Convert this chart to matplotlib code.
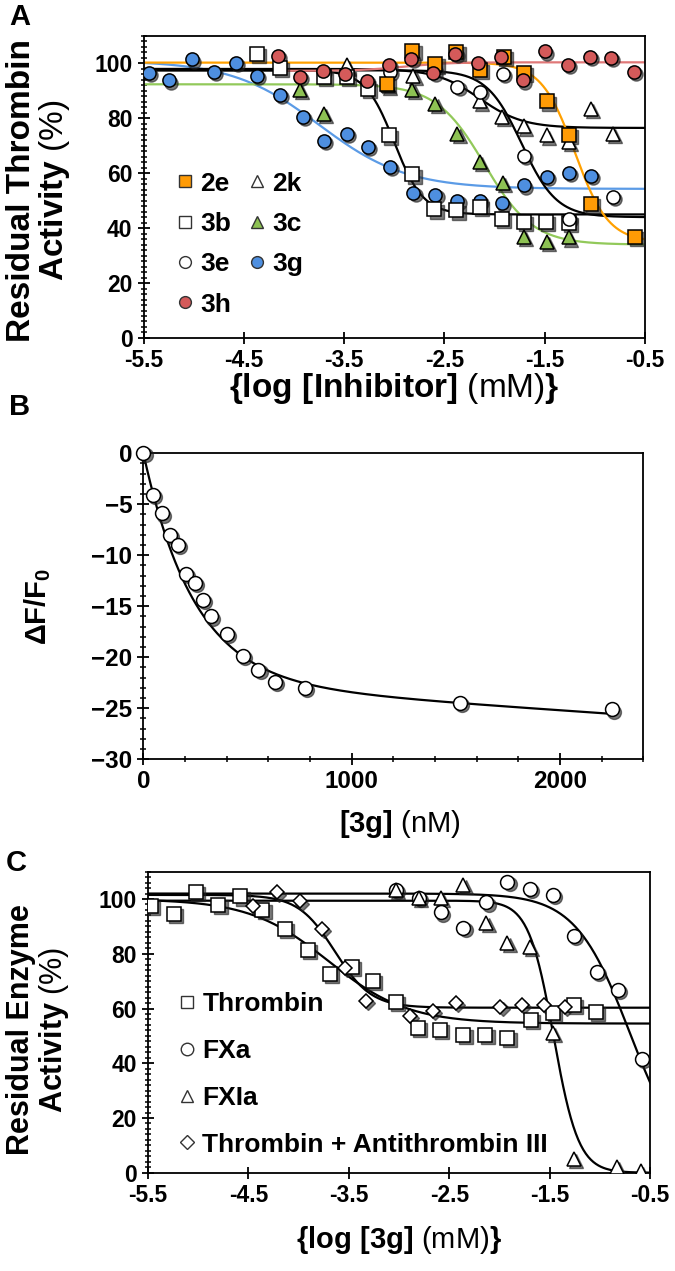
import numpy as np
import matplotlib
matplotlib.use('Agg')
import matplotlib.pyplot as plt
from matplotlib.transforms import offset_copy
from matplotlib.lines import Line2D
from matplotlib.ticker import MultipleLocator

plt.rcParams['font.family'] = ['Liberation Sans', 'DejaVu Sans']
plt.rcParams['font.weight'] = 'bold'
plt.rcParams['mathtext.fontset'] = 'custom'
plt.rcParams['mathtext.rm'] = 'Liberation Sans'
plt.rcParams['mathtext.bf'] = 'Liberation Sans:bold'
plt.rcParams['mathtext.it'] = 'Liberation Sans:italic'
plt.rcParams['axes.linewidth'] = 1.3

# ---- panel A : residual thrombin activity vs log[inhibitor] ----
x_2e = [-3.07, -2.82, -2.59, -2.38, -2.15, -1.91, -1.71, -1.48, -1.26, -1.04, -0.60]
y_2e = [92.6, 104.7, 99.9, 104.1, 97.7, 102.3, 96.5, 86.2, 74.1, 48.7, 36.8]
x_2k = [-3.47, -2.81, -2.59, -2.15, -1.93, -1.71, -1.48, -1.26, -1.04, -0.82]
y_2k = [99.3, 95.5, 99.5, 86.2, 80.5, 77.1, 73.8, 71.5, 83.5, 74.4]
x_3b = [-4.37, -4.14, -3.70, -3.47, -3.26, -3.05, -2.82, -2.60, -2.38, -2.15, -1.93, -1.71, -1.49, -1.26]
y_3b = [103.5, 98.3, 95.0, 95.0, 90.8, 73.8, 59.6, 46.8, 46.5, 47.8, 43.5, 42.3, 42.3, 42.0]
x_3c = [-3.94, -3.70, -3.47, -3.06, -2.82, -2.59, -2.37, -2.15, -1.92, -1.71, -1.48, -1.26]
y_3c = [90.4, 81.7, 98.7, 92.0, 90.5, 85.3, 74.4, 64.1, 56.5, 36.8, 35.0, 36.6]
x_3e = [-3.04, -2.37, -2.15, -1.92, -1.71, -1.26, -0.82]
y_3e = [96.8, 91.5, 89.6, 96.3, 66.2, 43.5, 51.5]
x_3g = [-5.45, -5.25, -5.02, -4.80, -4.58, -4.37, -4.14, -3.91, -3.70, -3.47, -3.26,
        -3.04, -2.81, -2.59, -2.37, -2.15, -1.93, -1.71, -1.48, -1.26, -1.04]
y_3g = [96.5, 93.8, 101.5, 97.0, 100.2, 95.4, 88.4, 80.5, 71.7, 74.2, 69.6,
        62.3, 52.9, 52.0, 49.8, 49.8, 49.0, 55.6, 58.7, 60.1, 58.9]
x_3h = [-4.16, -3.94, -3.71, -3.49, -3.27, -3.05, -2.83, -2.61, -2.39, -2.17, -1.94,
        -1.72, -1.50, -1.27, -1.05, -0.84, -0.61]
y_3h = [102.7, 95.0, 97.2, 96.0, 93.5, 99.5, 101.7, 96.6, 103.5, 100.2, 102.3,
        93.8, 104.4, 99.5, 102.3, 102.0, 96.8]

# fitted dose-response parameters (top, bottom, logIC50, hill)
fit_A = {
    '2e': (100.3, 35.0, -1.20, 2.6),
    '2k': (98.0, 76.5, -2.15, 2.0),
    '3b': (97.5, 45.0, -3.00, 3.0),
    '3c': (92.4, 34.0, -2.10, 1.8),
    '3e': (97.5, 44.0, -1.73, 2.5),
    '3g': (101.0, 54.3, -3.75, 1.0),
    '3h': (97.3, 100.4, -2.90, 2.0),
}

# ---- panel B : fluorescence titration ----
conc_3g = [0, 47.5, 88, 128, 167, 204, 248, 285, 325, 400, 477, 552, 632, 776, 1520, 2248]
dF_F0 = [0.0, -4.1, -5.9, -8.0, -9.0, -11.8, -12.7, -14.4, -16.0, -17.7, -19.9,
         -21.2, -22.4, -23.0, -24.5, -25.1]
fit_B = (22.4, 244.0, 0.0014)  # amplitude, decay const (nM), linear term

# ---- panel C : selectivity ----
x_thr = [-5.47, -5.24, -5.02, -4.80, -4.58, -4.36, -4.14, -3.91, -3.69, -3.47, -3.26,
         -3.03, -2.81, -2.59, -2.36, -2.14, -1.92, -1.69, -1.47, -1.26, -1.04]
y_thr = [97.5, 94.6, 102.6, 97.9, 101.0, 96.1, 89.1, 81.5, 72.7, 75.1, 70.1,
         62.5, 52.8, 52.2, 50.4, 50.4, 49.2, 55.9, 58.5, 61.4, 58.9]
x_fxa = [-3.03, -2.80, -2.58, -2.36, -2.13, -1.92, -1.70, -1.47, -1.26, -1.03, -0.82, -0.58]
y_fxa = [103.4, 100.4, 95.1, 89.4, 98.8, 106.4, 103.8, 101.6, 86.6, 73.5, 66.8, 41.5]
x_fxia = [-3.03, -2.80, -2.58, -2.36, -2.13, -1.92, -1.70, -1.47, -1.26, -0.83, -0.59]
y_fxia = [103.4, 100.4, 100.4, 105.2, 91.2, 83.9, 82.4, 51.0, 5.0, 2.0, 0.5]
x_at3 = [-4.45, -4.22, -3.99, -3.77, -3.54, -3.33, -2.89, -2.66, -2.43, -1.99, -1.78, -1.56, -1.35]
y_at3 = [97.3, 102.4, 99.1, 89.0, 74.8, 62.8, 57.3, 59.2, 62.0, 60.5, 61.4, 61.4, 60.7]

fit_C = {
    'Thrombin': (100.0, 54.5, -3.70, 1.1),
    'FXa': (102.0, 0.0, -0.70, 1.6),
    'FXIa': (99.4, 0.0, -1.46, 3.5),
    'Thrombin + Antithrombin III': (101.5, 60.3, -3.64, 2.4),
}

colors = {'2e': '#FF9B05', '2k': 'white', '3b': 'white', '3c': '#8DC153',
          '3e': 'white', '3g': '#4E8FE0', '3h': '#D45A5A'}
line_colors = {'2e': '#FFA000', '2k': 'black', '3b': 'black', '3c': '#92C95A',
               '3e': 'black', '3g': '#5B9BE6', '3h': '#E07878'}
markers = {'2e': 's', '2k': '^', '3b': 's', '3c': '^', '3e': 'o', '3g': 'o', '3h': 'o'}


def dose_response(x, top, bottom, logic50, hill):
    return bottom + (top - bottom) / (1 + 10 ** ((x - logic50) * hill))


fig = plt.figure(figsize=(6.75, 12.71), dpi=100)


def points(ax, x, y, marker, face, size, clip=True):
    sh = offset_copy(ax.transData, fig=fig, x=1.6, y=-1.6, units='points')
    ax.plot(x, y, ls='none', marker=marker, ms=size, mfc='#202020', mec='#202020',
            alpha=0.6, transform=sh, zorder=3, clip_on=clip)
    ax.plot(x, y, ls='none', marker=marker, ms=size, mfc=face, mec='black',
            mew=1.1, zorder=4, clip_on=clip)


def style(ax, size):
    ax.tick_params(which='major', direction='inout', length=9, width=1.3, labelsize=size)
    ax.tick_params(which='minor', direction='inout', length=5, width=1.1)


# ---------------- A ----------------
axA = fig.add_axes([0.2126, 0.7341, 0.743, 0.2376])
xs = np.linspace(-5.5, -0.5, 400)
data_A = {'2e': (x_2e, y_2e), '2k': (x_2k, y_2k), '3b': (x_3b, y_3b), '3c': (x_3c, y_3c),
          '3e': (x_3e, y_3e), '3g': (x_3g, y_3g), '3h': (x_3h, y_3h)}
for key in ['3g', '3c', '2k', '3b', '3e', '2e', '3h']:
    xx = xs if key != '3h' else np.linspace(-4.16, -0.5, 300)
    axA.plot(xx, dose_response(xx, *fit_A[key]), color=line_colors[key], lw=1.6, zorder=2)
for key in ['3g', '3c', '2k', '3b', '3e', '2e', '3h']:
    x, y = data_A[key]
    ms = 9.5 if markers[key] != '^' else 10
    points(axA, x, y, markers[key], colors[key], ms)
axA.set_xlim(-5.5, -0.5)
axA.set_ylim(0, 110)
axA.set_xticks(np.arange(-5.5, -0.4, 1.0))
axA.set_xticklabels(['-5.5', '-4.5', '-3.5', '-2.5', '-1.5', '-0.5'])
axA.set_yticks(np.arange(0, 101, 20))
axA.yaxis.set_minor_locator(MultipleLocator(2))
style(axA, 16.5)

order = ['2e', '3b', '3e', '3h', '2k', '3c', '3g']
handles = [Line2D([], [], ls='none', marker=markers[k], ms=8.5, mfc=colors[k], mec='#333333', mew=1.0)
           for k in order]
axA.legend(handles, order, ncol=2, loc='upper left', bbox_to_anchor=(0.0295, 0.612),
           frameon=False, fontsize=19, handlelength=0.64, handletextpad=0.25,
           columnspacing=0.67, labelspacing=0.62, borderpad=0.2)

fig.text(22 / 675, 1 - 190 / 1271, 'Residual Thrombin', rotation=90, ha='center', va='center',
         fontsize=24)
fig.text(54 / 675, 1 - 190 / 1271, r'$\mathbf{Activity}$ (%)', rotation=90, ha='center',
         va='center', fontsize=24, fontweight='normal')
fig.text(394 / 675, 1 - 389 / 1271, r'$\mathbf{\{log\ [Inhibitor]}$ (mM)$\mathbf{\}}$',
         ha='center', va='center', fontsize=24, fontweight='normal')
fig.text(20 / 675, 1 - 17 / 1271, 'A', ha='center', va='center', fontsize=21)

# ---------------- B ----------------
axB = fig.add_axes([0.2124, 0.4026, 0.7406, 0.2408])
xb = np.linspace(0, 2248, 400)
amp, tau, slope = fit_B
axB.plot(xb, -(amp * (1 - np.exp(-xb / tau)) + slope * xb), color='black', lw=1.6, zorder=2)
points(axB, conc_3g, dF_F0, 'o', 'white', 10, clip=False)
axB.set_xlim(0, 2400)
axB.set_ylim(-30, 0)
axB.set_xticks([0, 1000, 2000])
axB.xaxis.set_minor_locator(MultipleLocator(200))
axB.set_yticks(np.arange(-30, 1, 5))
axB.yaxis.set_minor_locator(MultipleLocator(1))
style(axB, 17.5)
fig.text(38 / 675, 1 - 606 / 1271, r'$\mathbf{\Delta F/F_0}$', rotation=90, ha='center',
         va='center', fontsize=21)
fig.text(400 / 675, 1 - 824 / 1271, r'$\mathbf{[3g]}$ (nM)', ha='center', va='center',
         fontsize=21, fontweight='normal')
fig.text(20 / 675, 1 - 407 / 1271, 'B', ha='center', va='center', fontsize=21)

# ---------------- C ----------------
axC = fig.add_axes([0.2193, 0.0773, 0.7437, 0.2369])
xc = np.linspace(-5.5, -0.5, 400)
data_C = {'Thrombin': (x_thr, y_thr, 's', 10),
          'FXa': (x_fxa, y_fxa, 'o', 10),
          'FXIa': (x_fxia, y_fxia, '^', 10),
          'Thrombin + Antithrombin III': (x_at3, y_at3, 'D', 7)}
for key in fit_C:
    axC.plot(xc, dose_response(xc, *fit_C[key]), color='black', lw=1.6, zorder=2)
for key, (x, y, m, ms) in data_C.items():
    points(axC, x, y, m, 'white', ms)
axC.set_xlim(-5.5, -0.5)
axC.set_ylim(0, 110)
axC.set_xticks(np.arange(-5.5, -0.4, 1.0))
axC.set_xticklabels(['-5.5', '-4.5', '-3.5', '-2.5', '-1.5', '-0.5'])
axC.set_yticks(np.arange(0, 101, 20))
axC.yaxis.set_minor_locator(MultipleLocator(2))
style(axC, 16.5)

handlesC = [Line2D([], [], ls='none', marker=m, ms=9 if m != 'D' else 7, mfc='white',
                   mec='#333333', mew=1.0) for (_, _, m, _) in data_C.values()]
axC.legend(handlesC, list(data_C.keys()), loc='upper left', bbox_to_anchor=(0.0245, 0.66),
           frameon=False, fontsize=19, handlelength=0.64, handletextpad=0.25,
           labelspacing=0.86, borderpad=0.2)

fig.text(21 / 675, 1 - 1030 / 1271, 'Residual Enzyme', rotation=90, ha='center', va='center',
         fontsize=22)
fig.text(54 / 675, 1 - 1030 / 1271, r'$\mathbf{Activity}$ (%)', rotation=90, ha='center',
         va='center', fontsize=22, fontweight='normal')
fig.text(399 / 675, 1 - 1240 / 1271, r'$\mathbf{\{log\ [3g]}$ (mM)$\mathbf{\}}$',
         ha='center', va='center', fontsize=21, fontweight='normal')
fig.text(16 / 675, 1 - 863 / 1271, 'C', ha='center', va='center', fontsize=21)

fig.savefig('out.png', dpi=100)
